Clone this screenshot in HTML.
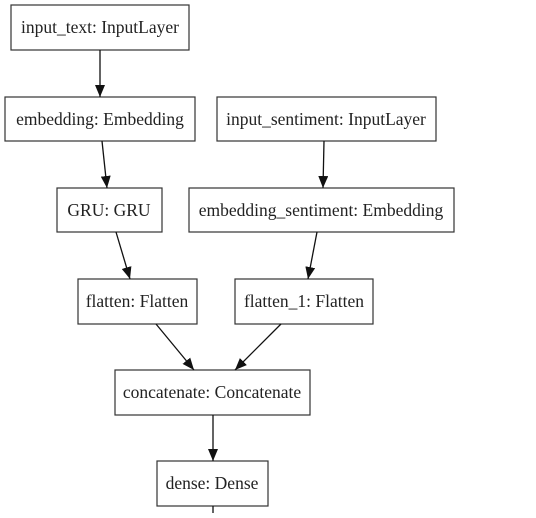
<!DOCTYPE html>
<html><head><style>html,body{margin:0;padding:0;background:#fff;}</style></head><body>
<svg width="536" height="513" viewBox="0 0 536 513" xmlns="http://www.w3.org/2000/svg">
<defs><marker id="a" markerWidth="12" markerHeight="10" refX="12" refY="5" orient="auto" markerUnits="userSpaceOnUse"><path d="M0,0 L12,5 L0,10 z" fill="#111"/></marker></defs>
<g fill="#fff" stroke="#333" stroke-width="1.2">
<rect x="11" y="5" width="178" height="45"/>
<rect x="5" y="97" width="190" height="44"/>
<rect x="217" y="97" width="219" height="44"/>
<rect x="57" y="188" width="105" height="44"/>
<rect x="189" y="188" width="265" height="44"/>
<rect x="78" y="279" width="119" height="45"/>
<rect x="235" y="279" width="138" height="45"/>
<rect x="115" y="370" width="195" height="45"/>
<rect x="157" y="461" width="111" height="45"/>
</g>
<g stroke="#111" stroke-width="1.3" marker-end="url(#a)">
<line x1="100" y1="50" x2="100" y2="97"/>
<line x1="102" y1="141" x2="107" y2="188"/>
<line x1="324" y1="141" x2="323" y2="188"/>
<line x1="116" y1="232" x2="130" y2="279"/>
<line x1="317" y1="232" x2="308" y2="279"/>
<line x1="156" y1="324" x2="194" y2="370"/>
<line x1="281" y1="324" x2="235" y2="370"/>
<line x1="213" y1="415" x2="213" y2="461"/>
</g>
<line x1="213" y1="506" x2="213" y2="513" stroke="#111" stroke-width="1.3"/>
<g font-family="Liberation Serif, serif" font-size="17.5" fill="#222" text-anchor="middle">
<text x="100" y="33">input_text: InputLayer</text>
<text x="100" y="125">embedding: Embedding</text>
<text x="326" y="125">input_sentiment: InputLayer</text>
<text x="109" y="216">GRU: GRU</text>
<text x="321" y="216">embedding_sentiment: Embedding</text>
<text x="137" y="307">flatten: Flatten</text>
<text x="304" y="307">flatten_1: Flatten</text>
<text x="212" y="398">concatenate: Concatenate</text>
<text x="212" y="489">dense: Dense</text>
</g>
</svg>
</body></html>
